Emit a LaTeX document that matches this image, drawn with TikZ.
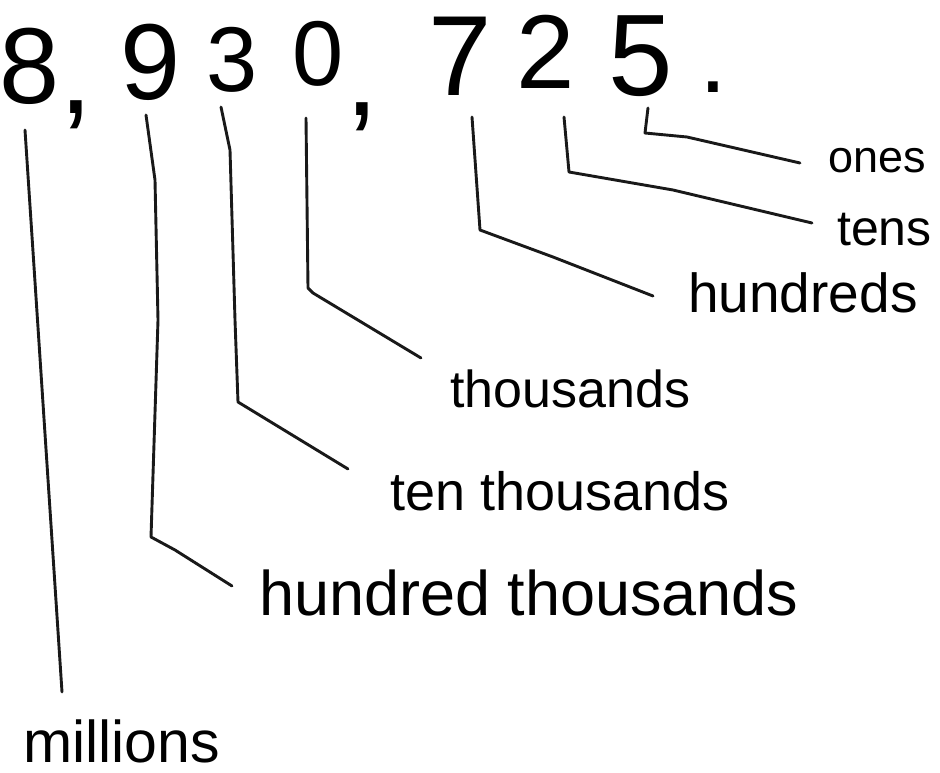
\documentclass[tikz,border=0pt]{standalone}
\usepackage{fontspec}
\setmainfont{Liberation Sans}
\begin{document}
\begin{tikzpicture}[x=1pt,y=-1pt,
  digit/.style={inner sep=0pt,anchor=center},
  punct/.style={inner sep=0pt,anchor=base,font=\fontsize{120}{120}\selectfont},
  lbl/.style={inner sep=0pt,anchor=base west,font=\fontsize{52}{52}\selectfont},
  conn/.style={line width=2.9pt,line cap=round,line join=round,draw=black!90}]
\useasboundingbox (0,0) rectangle (940,773);
% number
\node[digit,font=\fontsize{108}{108}\selectfont] (d8) at (30,66) {8};
\node[punct] (cm1) at (76,114) {\makebox[0pt]{,}};
\node[digit,font=\fontsize{108}{108}\selectfont] (d9) at (151,62) {9};
\node[digit,font=\fontsize{92}{92}\selectfont] (d3) at (232,60) {3};
\node[digit,font=\fontsize{92}{92}\selectfont] (d0) at (318,54) {0};
\node[punct] (cm2) at (362,116) {\makebox[0pt]{,}};
\node[digit,font=\fontsize{114}{114}\selectfont] (d7) at (460,56) {7};
\node[digit,font=\fontsize{105}{105}\selectfont] (d2) at (546,52) {2};
\node[digit,font=\fontsize{116}{116}\selectfont] (d5) at (641,56) {5};
\node[punct,font=\fontsize{100}{100}\selectfont] (pt) at (713,93) {\makebox[0pt]{.}};
% labels
\node[lbl,font=\fontsize{45}{45}\selectfont] (ones) at (828,172) {ones};
\node[lbl,font=\fontsize{50}{50}\selectfont] (tens) at (837,245) {tens};
\node[lbl,font=\fontsize{55}{55}\selectfont] (hundreds) at (688,312) {hundreds};
\node[lbl] (thousands) at (450,407) {thousands};
\node[lbl,font=\fontsize{54}{54}\selectfont] (tenthousands) at (390,510) {ten thousands};
\node[lbl,font=\fontsize{63}{63}\selectfont] (hundredthousands) at (259,615) {hundred thousands};
\node[lbl,font=\fontsize{59}{59}\selectfont] (millions) at (23,762) {millions};
% connector points
\coordinate (s8) at (25,130);   \coordinate (e8) at (62,692);
\coordinate (s9) at (146,115);  \coordinate (e9) at (232,586);
\coordinate (s3) at (221,107);  \coordinate (e3) at (348,469);
\coordinate (s0) at (306,118);  \coordinate (e0) at (421,358);
\coordinate (s7) at (472,117);  \coordinate (e7) at (653,296);
\coordinate (s2) at (564,117);  \coordinate (e2) at (812,223);
\coordinate (s5) at (648,108);  \coordinate (e5) at (800,163);
% connectors
\draw[conn] (s8) -- (e8);
\draw[conn] (s9) -- (155,180) -- (158,320) -- (151,537) -- (175,550) -- (e9);
\draw[conn] (s3) -- (230,150) -- (235,320) -- (238,402) -- (e3);
\draw[conn] (s0) -- (308,288) -- (313,293) -- (e0);
\draw[conn] (s7) -- (480,230) -- (553,257) -- (e7);
\draw[conn] (s2) -- (569,172) -- (673,190) -- (e2);
\draw[conn] (s5) -- (645,133) -- (687,137) -- (e5);
\end{tikzpicture}
\end{document}
